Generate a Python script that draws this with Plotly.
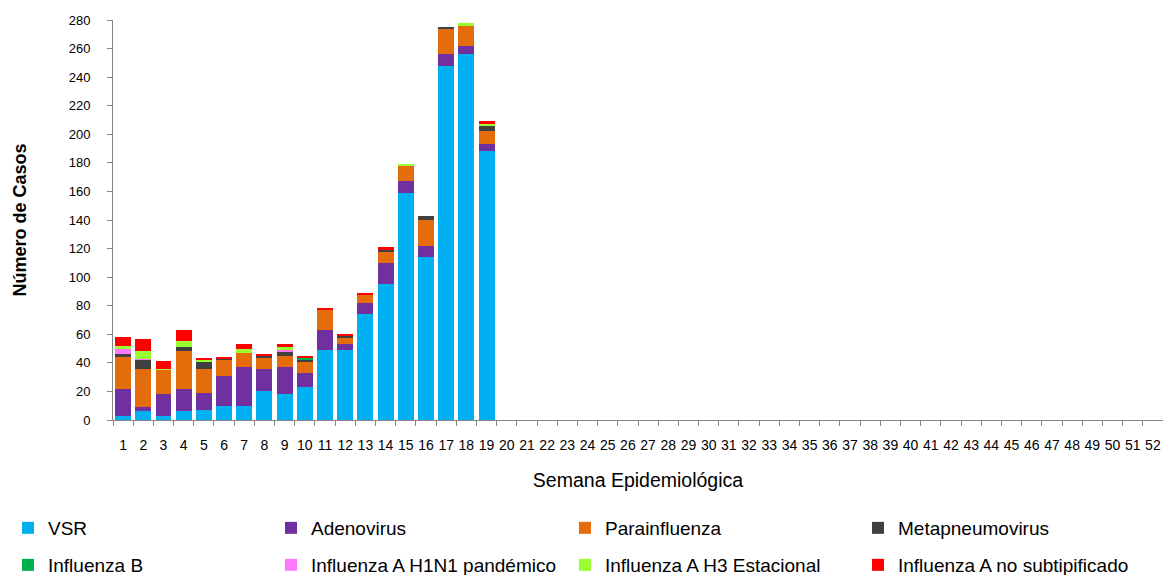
import plotly.graph_objects as go

weeks = [str(i) for i in range(1, 53)]

vsr = [3, 6, 3, 6, 7, 10, 10, 20, 18, 23, 49, 49, 74, 95, 159, 114, 248, 256, 188]
adenovirus = [19, 3, 15, 16, 12, 21, 27, 16, 19, 10, 14, 4, 8, 15, 8, 8, 8, 6, 5]
parainfluenza = [22, 27, 17, 26, 17, 11, 10, 8, 8, 8, 14, 5, 6, 8, 11, 18, 18, 14, 9]
metapneumovirus = [2, 6, 0, 3, 5, 1, 0, 1, 3, 1, 0, 1, 0, 1, 0, 3, 1, 0, 4]
influenza_b = [0, 0, 0, 0, 0, 0, 0, 0, 0, 2, 0, 0, 0, 0, 0, 0, 0, 0, 0]
h1n1_pandemico = [4, 1, 0, 0, 0, 0, 0, 0, 1, 0, 0, 0, 0, 0, 0, 0, 0, 0, 0]
h3_estacional = [2, 5, 1, 4, 1, 0, 3, 0, 2, 0, 0, 0, 0, 0, 1, 0, 0, 2, 1]
a_no_subtipificado = [6, 9, 5, 8, 1, 1, 3, 1, 2, 1, 1, 1, 1, 2, 0, 0, 0, 0, 2]

series_names = ["VSR", "Adenovirus", "Parainfluenza", "Metapneumovirus",
                "Influenza B", "Influenza A H1N1 pandémico",
                "Influenza A H3 Estacional", "Influenza A no subtipificado"]
series_values = [vsr, adenovirus, parainfluenza, metapneumovirus,
                 influenza_b, h1n1_pandemico, h3_estacional, a_no_subtipificado]
series_colors = ["#00B0F0", "#7030A0", "#E46C0A", "#404040",
                 "#00B050", "#FF77FF", "#99FF33", "#FF0000"]

FONT = "Liberation Sans, Arial, sans-serif"
W, H = 1163, 567  # page body adds an 8px offset

# legend grid: 4 columns x 2 rows (pixel positions in figure space)
col_x = [0, 263, 557, 850]
row_y = [520, 557]

fig = go.Figure()
layout_legends = {}
for i, (name, vals, color) in enumerate(zip(series_names, series_values, series_colors)):
    key = "legend" if i == 0 else f"legend{i + 1}"
    padded = vals + [None] * (len(weeks) - len(vals))
    fig.add_trace(go.Bar(
        x=weeks, y=padded, name=name, marker=dict(color=color, line=dict(width=0)),
        legend=key, showlegend=True,
    ))
    layout_legends[key] = dict(
        orientation="h", xanchor="left", yanchor="middle",
        xref="container", yref="container",
        x=col_x[i % 4] / W, y=(H - row_y[i // 4]) / H,
        font=dict(family=FONT, size=19, color="#000000"),
        bgcolor="rgba(0,0,0,0)", itemclick=False, itemdoubleclick=False,
    )

fig.update_layout(
    width=W, height=H, showlegend=True,
    margin=dict(l=105, r=8, t=12, b=155, autoexpand=False),
    barmode="stack", bargap=0.21,
    plot_bgcolor="white", paper_bgcolor="white",
    font=dict(family=FONT, color="#000000"),
    xaxis=dict(
        type="category", range=[-0.5, 51.5], tickson="boundaries",
        ticks="outside", ticklen=5, tickcolor="#868686",
        showline=True, linecolor="#868686", linewidth=1,
        showgrid=False, tickangle=0, automargin=False,
        tickfont=dict(family=FONT, size=14, color="#000000"),
        ticklabelstandoff=12,
        title=dict(text="Semana Epidemiológica", font=dict(family=FONT, size=19.5, color="#000000"), standoff=21),
    ),
    yaxis=dict(
        range=[0, 280], dtick=20, tick0=0,
        ticks="outside", ticklen=5, tickcolor="#868686",
        showline=True, linecolor="#868686", linewidth=1,
        showgrid=False, zeroline=False, automargin=False,
        tickfont=dict(family=FONT, size=13, color="#000000"),
        ticklabelstandoff=14,
        title=dict(text="<b>Número de Casos</b>", font=dict(family=FONT, size=18, color="#000000"), standoff=37),
    ),
    **layout_legends,
)

fig.write_html("out.html")
